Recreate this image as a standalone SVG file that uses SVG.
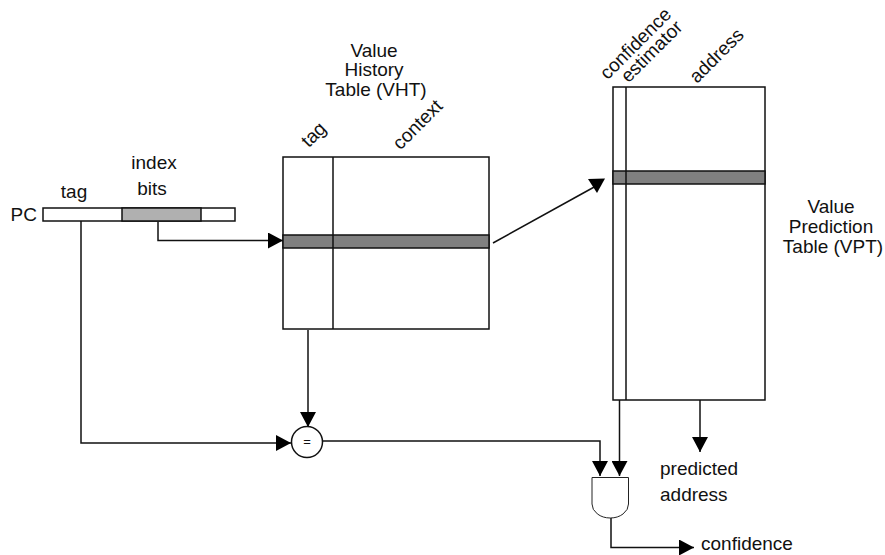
<svg xmlns="http://www.w3.org/2000/svg" width="885" height="555" viewBox="0 0 885 555">
<style>
text{font-family:"Liberation Sans",Arial,sans-serif;font-size:19px;fill:#111}
.m{text-anchor:middle}
.b{fill:#fff;stroke:#111;stroke-width:1.5}
.g{fill:#808080;stroke:#111;stroke-width:1.5}
.l{fill:none;stroke:#111;stroke-width:1.5}
.c{fill:none;stroke:#111;stroke-width:1.5}
</style>
<defs><marker id="a" markerUnits="userSpaceOnUse" markerWidth="16" markerHeight="16" refX="15" refY="8" orient="auto"><path d="M0,0L15,8L0,16Z" fill="#000"/></marker></defs>
<rect width="885" height="555" fill="#fff"/>
<g id="connectors">
<path class="c" d="M158,222V240.500H283" marker-end="url(#a)"/>
<path class="c" d="M81,221V443H291" marker-end="url(#a)"/>
<path class="c" d="M308,330V427" marker-end="url(#a)"/>
<path class="c" d="M322,441H600V476" marker-end="url(#a)"/>
<path class="c" d="M619.500,400V476" marker-end="url(#a)"/>
<path class="c" d="M700,400V452" marker-end="url(#a)"/>
<path class="c" d="M611,518V547.500H694" marker-end="url(#a)"/>
<path class="c" d="M493,243L596,186"/>
<path d="M588,179L605,178.500L597,193Z" fill="#000"/>
</g>
<g id="pc">
<rect class="b" x="43" y="208" width="192" height="13"/>
<rect x="122" y="208" width="79" height="13" fill="#b0b0b0" stroke="#111" stroke-width="1.500"/>
<text x="37" y="221" text-anchor="end">PC</text>
<text x="74" y="198" class="m">tag</text>
<text x="154" y="169" class="m">index</text>
<text x="152" y="195" class="m">bits</text>
</g>
<g id="vht">
<rect class="b" x="283" y="157" width="206" height="172"/>
<rect class="g" x="283" y="235" width="206" height="13"/>
<path class="l" d="M333,157V329"/>
<text class="m" x="374" y="57">Value</text>
<text class="m" x="374" y="76">History</text>
<text class="m" x="376" y="96">Table (VHT)</text>
<text class="m" transform="translate(318,139) rotate(-45)">tag</text>
<text class="m" transform="translate(422,129) rotate(-45)">context</text>
</g>
<g id="vpt">
<rect class="b" x="613" y="87" width="152" height="313"/>
<rect class="g" x="613" y="171" width="152" height="13"/>
<path class="l" d="M626,87V400"/>
<text class="m" transform="translate(640,48) rotate(-45)">confidence</text>
<text class="m" transform="translate(656,56) rotate(-45)">estimator</text>
<text class="m" transform="translate(721,60) rotate(-45)">address</text>
<text class="m" x="831" y="213">Value</text>
<text class="m" x="831" y="233">Prediction</text>
<text class="m" x="833" y="253">Table (VPT)</text>
</g>
<g id="equal">
<circle class="b" cx="307" cy="442" r="15.500"/>
<text class="m" x="307" y="446" style="font-size:13px">=</text>
</g>
<g id="and-gate">
<path d="M592,477.500H628.500V504A18.250,14 0 0 1 592,504Z" fill="#fff" stroke="#222" stroke-width="1"/>
</g>
<g id="predicted-address">
<text x="660" y="475">predicted</text>
<text x="660" y="501">address</text>
</g>
<g id="confidence"><text x="701" y="550">confidence</text></g>
</svg>
